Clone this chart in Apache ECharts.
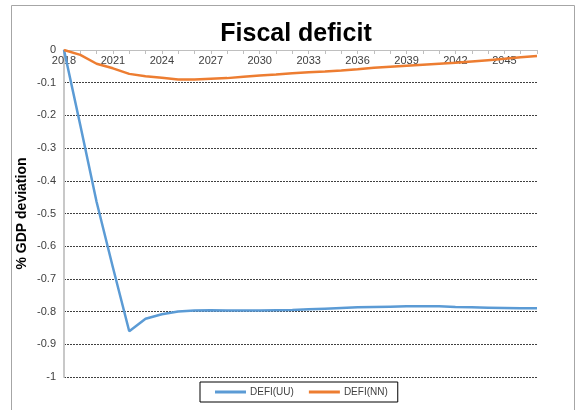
<!DOCTYPE html>
<html>
<head>
<meta charset="utf-8">
<script src="https://cdn.jsdelivr.net/npm/echarts@6/dist/echarts.min.js"></script>
<style>
  html, body { margin: 0; padding: 0; background: #fff; }
  #chart { width: 580px; height: 410px; }
</style>
</head>
<body>
<div id="chart"></div>
<script>
// Years on the horizontal axis
const years = [];
for (let y = 2018; y <= 2047; y++) years.push(String(y));

// Fiscal deficit deviation, % of GDP
const defiUU = [
  0, -0.23, -0.465, -0.665, -0.86, -0.822, -0.808, -0.800, -0.797, -0.796,
  -0.797, -0.797, -0.797, -0.796, -0.795, -0.793, -0.791, -0.789, -0.787, -0.786,
  -0.785, -0.784, -0.784, -0.784, -0.786, -0.787, -0.788, -0.789, -0.790, -0.790
];
const defiNN = [
  0, -0.015, -0.042, -0.056, -0.073, -0.080, -0.085, -0.090, -0.090, -0.088,
  -0.086, -0.082, -0.078, -0.075, -0.071, -0.068, -0.066, -0.063, -0.059, -0.054,
  -0.051, -0.048, -0.045, -0.042, -0.039, -0.035, -0.031, -0.027, -0.022, -0.018
];

const chart = echarts.init(document.getElementById('chart'), null, { renderer: 'canvas' });
const font = 'Liberation Sans, Arial, sans-serif';

chart.setOption({
  animation: false,
  backgroundColor: '#ffffff',
  textStyle: { fontFamily: font },
  title: {
    text: 'Fiscal deficit',
    left: 291,
    textAlign: 'center',
    top: 17,
    textStyle: { fontFamily: font, fontSize: 25, fontWeight: 'bold', color: '#000' }
  },
  legend: {
    top: 382,
    left: 200,
    width: 197,
    icon: 'rect',
    itemWidth: 31,
    itemHeight: 3,
    itemGap: 15,
    padding: [5, 10, 5, 15],
    borderColor: '#000',
    borderWidth: 1,
    textStyle: { fontFamily: font, fontSize: 10, color: '#404040', padding: [0, 0, 0, -1] },
    data: ['DEFI(UU)', 'DEFI(NN)']
  },
  grid: { left: 64, right: 43, top: 50, bottom: 33 },
  xAxis: {
    type: 'category',
    position: 'top',
    data: years,
    boundaryGap: false,
    axisLine: { lineStyle: { color: '#bfbfbf', width: 1 } },
    axisTick: { show: true, inside: true, interval: 0, length: 4, lineStyle: { color: '#bfbfbf' } },
    axisLabel: { inside: true, interval: 2, fontSize: 11, color: '#404040', margin: 5, fontFamily: font },
    splitLine: { show: false }
  },
  yAxis: {
    type: 'value',
    min: -1,
    max: 0,
    interval: 0.1,
    name: '% GDP deviation',
    nameLocation: 'middle',
    nameGap: 35,
    nameMoveOverlap: false,
    nameTextStyle: { fontFamily: font, fontSize: 14, fontWeight: 'bold', color: '#000' },
    axisLine: { show: true, lineStyle: { color: '#c8c8c8', width: 2 } },
    axisTick: { show: false },
    axisLabel: {
      fontSize: 11, color: '#404040', margin: 8, fontFamily: font,
      formatter: v => String(Math.round(v * 10) / 10)
    },
    splitLine: { show: true, lineStyle: { color: '#404040', type: [2, 1], width: 1 } }
  },
  series: [
    {
      name: 'DEFI(UU)',
      type: 'line',
      data: defiUU,
      symbol: 'none',
      lineStyle: { color: '#5B9BD5', width: 2.5 },
      itemStyle: { color: '#5B9BD5' }
    },
    {
      name: 'DEFI(NN)',
      type: 'line',
      data: defiNN,
      symbol: 'none',
      lineStyle: { color: '#ED7D31', width: 2.5 },
      itemStyle: { color: '#ED7D31' }
    }
  ],
  graphic: [
    {
      type: 'rect',
      shape: { x: 11.5, y: 5.5, width: 563, height: 420 },
      style: { fill: null, stroke: '#a6a6a6', lineWidth: 1 },
      silent: true,
      z: -1
    }
  ]
});
</script>
</body>
</html>
